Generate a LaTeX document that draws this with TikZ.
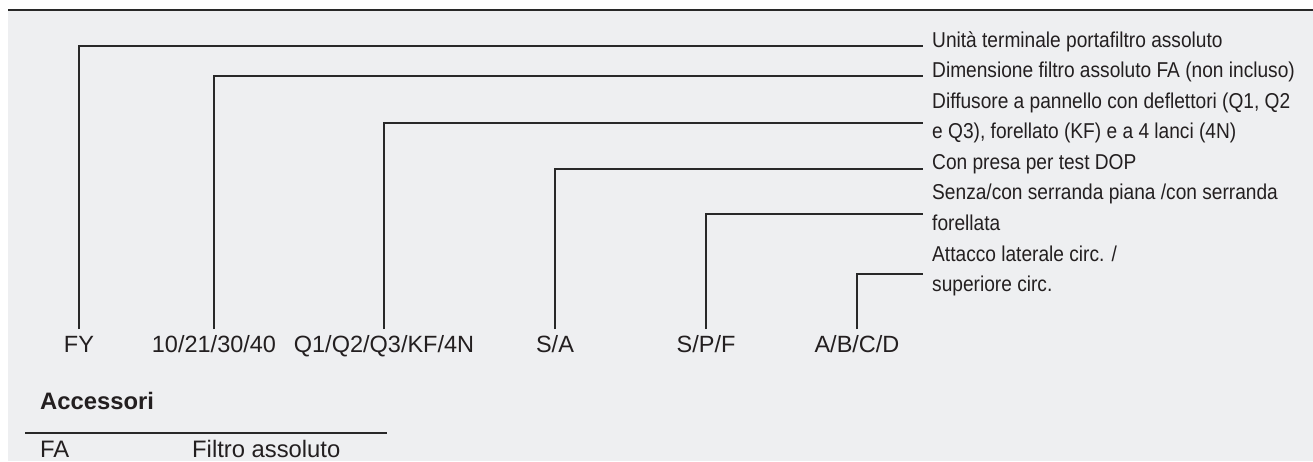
\documentclass[tikz,border=0pt]{standalone}
\usepackage{fontspec}
\setmainfont{Liberation Sans}
\newfontfamily\descfont[FakeStretch=0.89]{Liberation Sans}
\definecolor{bgc}{RGB}{238,239,241}
\definecolor{ink}{RGB}{35,31,32}
\definecolor{lnc}{RGB}{40,40,40}
\begin{document}
\begin{tikzpicture}[x=1pt,y=-1pt,
  desc/.style={anchor=base west,inner sep=0pt,text=ink,font=\descfont\fontsize{21.5}{30.5}\selectfont},
  lab/.style={anchor=base,inner sep=0pt,text=ink,font=\fontsize{23.5}{28}\selectfont},
  acc/.style={anchor=base west,inner sep=0pt,text=ink,font=\fontsize{23.8}{28}\selectfont},
  conn/.style={draw=lnc,line width=1.8pt},
  rule/.style={draw=lnc,line width=2.2pt}]
\useasboundingbox (0,0) rectangle (1313,461);
\fill[bgc] (8,10) rectangle (1313,461);
\draw[rule] (8,10) -- (1313,10);

% descriptions
\node[desc] (d1)  at (932,47)    {Unità terminale portafiltro assoluto};
\node[desc] (d2)  at (932,77.5)  {Dimensione filtro assoluto FA (non incluso)};
\node[desc] (d3a) at (932,108)   {Diffusore a pannello con deflettori (Q1, Q2};
\node[desc] (d3b) at (932,138.5) {e Q3), forellato (KF) e a 4 lanci (4N)};
\node[desc] (d4)  at (932,169)   {Con presa per test DOP};
\node[desc] (d5a) at (932,199.5) {Senza/con serranda piana /con serranda};
\node[desc] (d5b) at (932,230)   {forellata};
\node[desc] (d6a) at (932,261)   {Attacco laterale circ. /};
\node[desc] (d6b) at (932,291)   {superiore circ.};

% code labels
\node[lab] (l1) at (79,352)  {FY};
\node[lab] (l2) at (214,352) {10/21/30/40};
\node[lab] (l3) at (384,352) {Q1/Q2/Q3/KF/4N};
\node[lab] (l4) at (555,352) {S/A};
\node[lab] (l5) at (706,352) {S/P/F};
\node[lab] (l6) at (857,352) {A/B/C/D};

% connector ends
\coordinate (e1) at (923,46);
\coordinate (e2) at (923,76);
\coordinate (e3) at (923,123);
\coordinate (e4) at (923,169);
\coordinate (e5) at (923,214);
\coordinate (e6) at (923,274);

\draw[conn] ([yshift=23pt]l1.base) |- (e1);
\draw[conn] ([yshift=23pt]l2.base) |- (e2);
\draw[conn] ([yshift=23pt]l3.base) |- (e3);
\draw[conn] ([yshift=23pt]l4.base) |- (e4);
\draw[conn] ([yshift=23pt]l5.base) |- (e5);
\draw[conn] ([yshift=23pt]l6.base) |- (e6);

% accessories
\node[acc,font=\fontsize{23.8}{28}\selectfont\bfseries] (acc) at (40,409) {Accessori};
\coordinate (r1) at (25,433);
\coordinate (r2) at (387,433);
\draw[draw=lnc,line width=1.4pt] (r1) -- (r2);
\node[acc] (fa) at (40,457.5) {FA};
\node[acc] (fat) at (192,457.5) {Filtro assoluto};
\end{tikzpicture}
\end{document}
